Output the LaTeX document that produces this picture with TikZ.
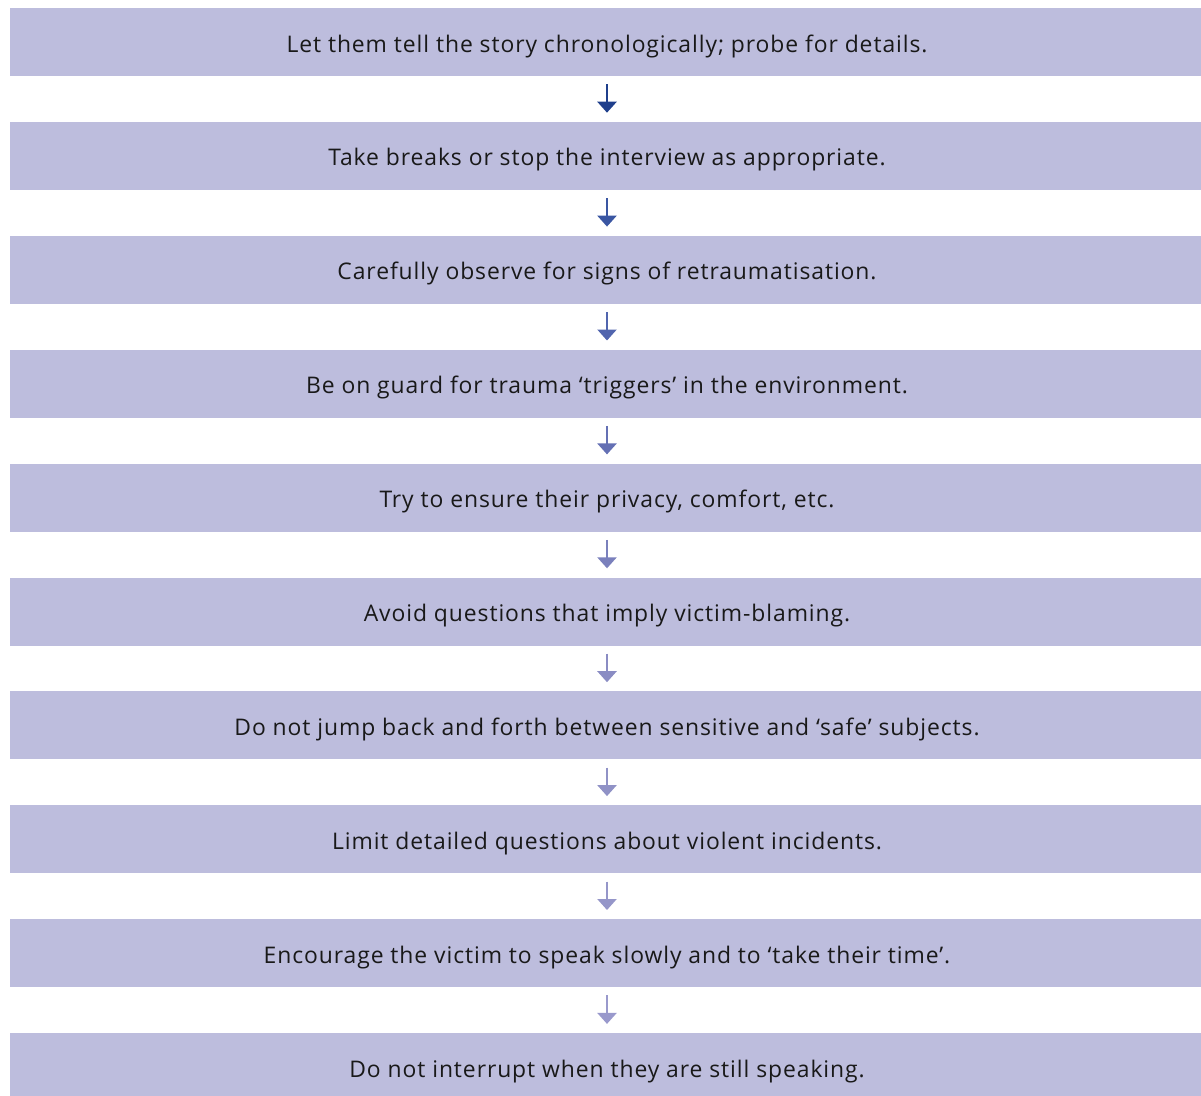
\documentclass[tikz,border=0pt]{standalone}
\usepackage{fontspec}
\setmainfont[LetterSpace=4]{Open Sans}
\usetikzlibrary{arrows.meta}

\definecolor{boxfill}{HTML}{BDBDDD}
\definecolor{arrowa}{HTML}{1F3F8C}
\definecolor{arrowb}{HTML}{3A56A2}
\definecolor{arrowc}{HTML}{5165AE}
\definecolor{arrowd}{HTML}{6470B4}
\definecolor{arrowe}{HTML}{7A80BC}
\definecolor{arrowf}{HTML}{8A8CC3}
\definecolor{arrowg}{HTML}{9092C6}
\definecolor{arrowh}{HTML}{9596C9}
\definecolor{arrowi}{HTML}{9999CC}

\tikzset{
  stepbox/.style={fill=boxfill, minimum width=1194pt, minimum height=68pt,
    inner sep=0pt, text height=20pt, text depth=0pt,
    font=\fontsize{22.9}{26}\selectfont, text=black!90},
  downarrow/.style={line width=2.5pt, -{Triangle[width=19pt,length=11pt]},
    shorten <=8pt, shorten >=9pt}
}

\begin{document}
\begin{tikzpicture}[x=1pt,y=-1pt]
        \clip (0,0) rectangle (1201,1095);

        \node[stepbox] (s1)  at (607,  42.0) {Let them tell the story chronologically; probe for details.};
        \node[stepbox] (s2)  at (607, 155.9) {Take breaks or stop the interview as appropriate.};
        \node[stepbox] (s3)  at (607, 269.8) {Carefully observe for signs of retraumatisation.};
        \node[stepbox] (s4)  at (607, 383.7) {Be on guard for trauma ‘triggers’ in the environment.};
        \node[stepbox] (s5)  at (607, 497.6) {Try to ensure their privacy, comfort, etc.};
        \node[stepbox] (s6)  at (607, 611.5) {Avoid questions that imply victim-blaming.};
        \node[stepbox] (s7)  at (607, 725.4) {Do not jump back and forth between sensitive and ‘safe’ subjects.};
        \node[stepbox] (s8)  at (607, 839.3) {Limit detailed questions about violent incidents.};
        \node[stepbox] (s9)  at (607, 953.2) {Encourage the victim to speak slowly and to ‘take their time’.};
        \node[stepbox] (s10) at (607,1067.1) {Do not interrupt when they are still speaking.};

        \draw [downarrow, arrowa] (s1.south) -- (s2.north);
        \draw [downarrow, arrowb] (s2.south) -- (s3.north);
        \draw [downarrow, arrowc] (s3.south) -- (s4.north);
        \draw [downarrow, arrowd] (s4.south) -- (s5.north);
        \draw [downarrow, arrowe] (s5.south) -- (s6.north);
        \draw [downarrow, arrowf] (s6.south) -- (s7.north);
        \draw [downarrow, arrowg] (s7.south) -- (s8.north);
        \draw [downarrow, arrowh] (s8.south) -- (s9.north);
        \draw [downarrow, arrowi] (s9.south) -- (s10.north);
    \end{tikzpicture}
\end{document}
